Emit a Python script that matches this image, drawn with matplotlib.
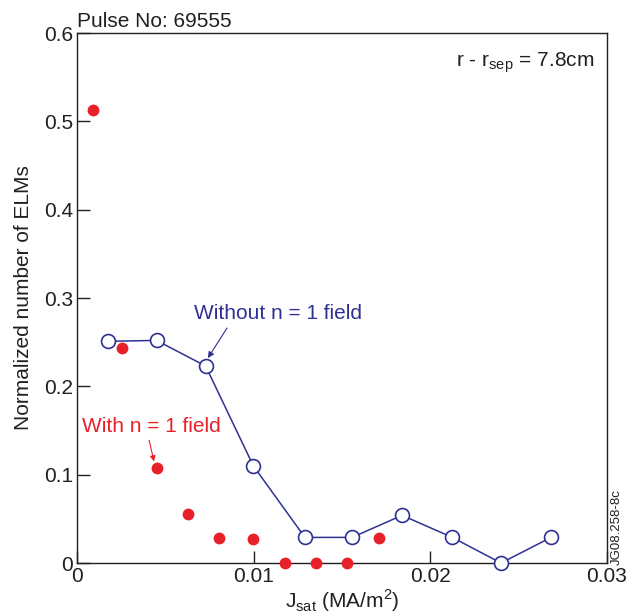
import matplotlib.pyplot as plt

plt.rcParams['font.family'] = ['Liberation Sans', 'DejaVu Sans']

# Without n = 1 field (open blue circles, joined)
jsat_without = [0.00177, 0.0045, 0.00728, 0.00998, 0.0129, 0.01557, 0.0184, 0.02124, 0.0240, 0.02683]
elms_without = [0.251, 0.252, 0.223, 0.110, 0.029, 0.029, 0.054, 0.029, 0.0, 0.029]

# With n = 1 field (filled red dots)
jsat_with = [0.00092, 0.00256, 0.00451, 0.00628, 0.00805, 0.00995, 0.01177, 0.01353, 0.01527, 0.01709]
elms_with = [0.513, 0.243, 0.108, 0.055, 0.028, 0.027, 0.0, 0.0, 0.0, 0.028]

xticks = [0, 0.01, 0.02, 0.03]
xticklabels = ['0', '0.01', '0.02', '0.03']
yticks = [0, 0.1, 0.2, 0.3, 0.4, 0.5, 0.6]
yticklabels = ['0', '0.1', '0.2', '0.3', '0.4', '0.5', '0.6']

BLUE = '#2e3192'
RED = '#e8202a'
DARK = '#231f20'
FS = 15

fig = plt.figure(figsize=(6.39, 6.16), dpi=100)
ax = fig.add_axes([0.1205, 0.086, 0.8295, 0.8604])

ax.plot(jsat_without, elms_without, '-o', color=BLUE, lw=1.1,
        markersize=10, markerfacecolor='white', markeredgecolor=BLUE,
        markeredgewidth=1.2, clip_on=False, zorder=3)
ax.plot(jsat_with, elms_with, 'o', color=RED, markersize=8.5,
        markeredgewidth=0, clip_on=False, zorder=4)

ax.set_xlim(0, 0.03)
ax.set_ylim(0, 0.6)
ax.set_xticks(xticks)
ax.set_xticklabels(xticklabels)
ax.set_yticks(yticks)
ax.set_yticklabels(yticklabels)
ax.tick_params(direction='in', length=9, width=1, color=DARK,
               labelsize=FS, labelcolor=DARK, pad=3)

for sp in ax.spines.values():
    sp.set_color(DARK)
    sp.set_linewidth(1)

ax.set_ylabel('Normalized number of ELMs', fontsize=FS, color=DARK, labelpad=8)
ax.set_xlabel(r'J$_{\mathregular{sat}}$ (MA/m$^{\mathregular{2}}$)', fontsize=FS,
              color=DARK, labelpad=1)

ax.text(0, 1.003, 'Pulse No: 69555', transform=ax.transAxes,
        fontsize=FS, color=DARK, ha='left', va='bottom')
ax.text(0.975, 0.945, r'r - r$_{\mathregular{sep}}$ = 7.8cm', transform=ax.transAxes,
        fontsize=FS, color=DARK, ha='right', va='center')

# annotations: text placed on its own, arrows drawn tail -> head
ax.text(0.01138, 0.283, 'Without n = 1 field', fontsize=FS, color=BLUE,
        ha='center', va='center')
ax.annotate('', xy=(0.00741, 0.232), xytext=(0.00849, 0.266),
            arrowprops=dict(arrowstyle='-|>', color=BLUE, lw=0.8,
                            mutation_scale=9, shrinkA=0, shrinkB=0))
ax.text(0.00419, 0.154, 'With n = 1 field', fontsize=FS, color=RED,
        ha='center', va='center')
ax.annotate('', xy=(0.00436, 0.115), xytext=(0.00408, 0.139),
            arrowprops=dict(arrowstyle='-|>', color=RED, lw=0.8,
                            mutation_scale=8, shrinkA=0, shrinkB=0))

fig.text(0.9655, 0.1445, 'JG08.258-8c', rotation=90, fontsize=9.5,
         color=DARK, ha='center', va='center')

fig.savefig('out.png', dpi=100)
